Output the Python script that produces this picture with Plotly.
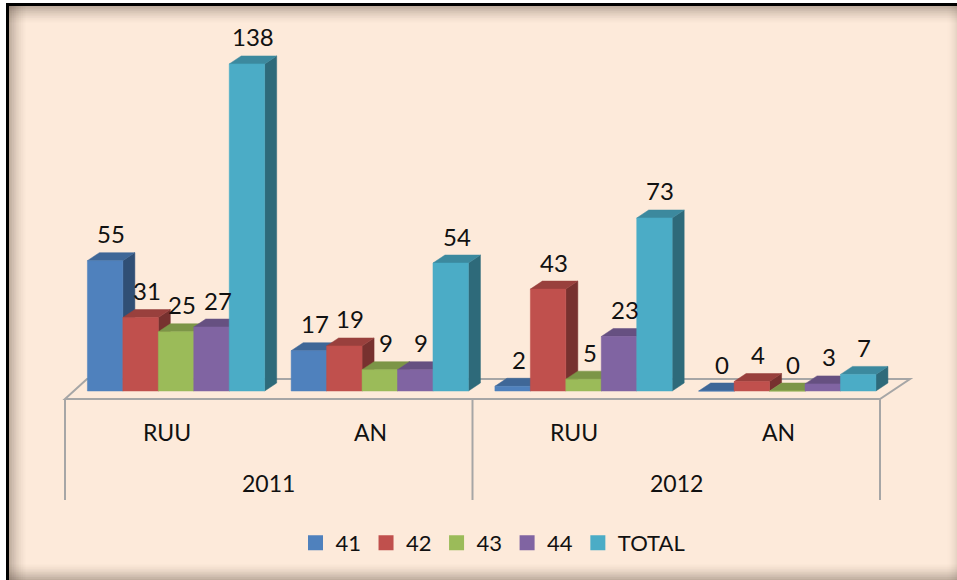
import plotly.graph_objects as go

# ---------------- data ----------------
years = ["2011", "2011", "2012", "2012"]
types = ["RUU", "AN", "RUU", "AN"]
year_labels = ["2011", "2012"]
series_names = ["41", "42", "43", "44", "TOTAL"]
s41 = [55, 17, 2, 0]
s42 = [31, 19, 43, 4]
s43 = [25, 9, 5, 0]
s44 = [27, 9, 23, 3]
s_total = [138, 54, 73, 7]
series_values = [s41, s42, s43, s44, s_total]

# ---------------- style ----------------
front_colors = ["#4F81BD", "#C0504D", "#9BBB59", "#8064A2", "#4BACC6"]
BG = "#FDEADA"
FONT = "Lato"


def shade(hexcol, f):
    h = hexcol.lstrip("#")
    r, g, b = (int(h[i:i + 2], 16) for i in (0, 2, 4))
    return "rgb(%d,%d,%d)" % (int(r * f), int(g * f), int(b * f))


W, H = 957, 580
ML, MR, MT, MB = 40, 17, 20, 60
PW = W - ML - MR
PH = H - MT - MB
PX_PER_X = 203.75          # pixels per category
PX_PER_Y = 2.37            # pixels per unit value
BASE_PX = 391              # pixel row of value 0
FRONT_LEFT_PX = 65         # pixel of category edge -0.5 on the front plane

xmin = -0.5 - (FRONT_LEFT_PX - ML) / PX_PER_X
XR = [xmin, xmin + PW / PX_PER_X]
YR = [-(MT + PH - BASE_PX) / PX_PER_Y, (BASE_PX - MT) / PX_PER_Y]


def ypx(py):
    """figure pixel row -> data value"""
    return (BASE_PX - py) / PX_PER_Y


GROUP_START = -0.39
BAR_W = 0.174
DX = 12 / PX_PER_X
DY = 8 / PX_PER_Y

fig = go.Figure()

# legend-only traces
for name, col in zip(series_names, front_colors):
    fig.add_trace(go.Scatter(x=[None], y=[None], name=name, mode="markers",
                             marker=dict(symbol="square", size=15, color=col),
                             showlegend=True, hoverinfo="skip"))

annotations = []
for k, (name, vals, col) in enumerate(zip(series_names, series_values, front_colors)):
    fx, fy, tx, ty, sx, sy = [], [], [], [], [], []
    for i, v in enumerate(vals):
        x0 = i + GROUP_START + k * BAR_W
        x1 = x0 + BAR_W
        fx += [x0, x1, x1, x0, x0, None]
        fy += [0, 0, v, v, 0, None]
        tx += [x0, x1, x1 + DX, x0 + DX, x0, None]
        ty += [v, v, v + DY, v + DY, v, None]
        sx += [x1, x1 + DX, x1 + DX, x1, x1, None]
        sy += [0, DY, v + DY, v, 0, None]
        annotations.append(dict(x=(x0 + x1) / 2 + DX / 2, y=v, yshift=27,
                                text=str(v), showarrow=False, xref="x", yref="y",
                                yanchor="middle", font=dict(family=FONT, size=24, color="#111")))
    for xs, ys, c in ((sx, sy, shade(col, 0.62)), (tx, ty, shade(col, 0.8)), (fx, fy, col)):
        fig.add_trace(go.Scatter(x=xs, y=ys, mode="lines", fill="toself", fillcolor=c,
                                 line=dict(color=c, width=0.5), showlegend=False,
                                 hoverinfo="skip"))

# category labels
for i, t in enumerate(types):
    annotations.append(dict(x=i, y=ypx(432), text=t, showarrow=False, yanchor="middle",
                            font=dict(family=FONT, size=23, color="#111")))
for j, yl in enumerate(year_labels):
    annotations.append(dict(x=0.5 + 2 * j, y=ypx(483), text=yl, showarrow=False,
                            yanchor="middle", font=dict(family=FONT, size=23, color="#111")))

shapes = []
GREY = "#A6A6A6"
# floor
yf, yb = ypx(399), ypx(379)
xl_b = -0.5 + 22 / PX_PER_X
xr_b = 3.5 + 30 / PX_PER_X
shapes.append(dict(type="path", xref="x", yref="y", layer="below",
                   path=f"M -0.5 {yf} L 3.5 {yf} L {xr_b} {yb} L {xl_b} {yb} Z",
                   line=dict(color=GREY, width=2), fillcolor=BG))
# table dividers
for xv in (-0.5, 1.5, 3.5):
    shapes.append(dict(type="line", xref="x", yref="y", x0=xv, x1=xv, y0=yf, y1=ypx(500),
                       line=dict(color=GREY, width=2), layer="below"))


# frame and shadow (figure pixels -> paper)
def px_rect(x0, y0, x1, y1, color):
    return dict(type="rect", xref="paper", yref="paper", layer="above",
                x0=(x0 - ML) / PW, x1=(x1 - ML) / PW,
                y0=(MT + PH - y0) / PH, y1=(MT + PH - y1) / PH,
                fillcolor=color, line=dict(width=0))


N = 10
for s in range(N):
    a = 0.34 * (1 - s / N) ** 1.5
    c = f"rgba(70,55,45,{a:.3f})"
    shapes.append(px_rect(9, 6 + 1.7 * s, W, 6 + 1.7 * (s + 1), c))          # top
    shapes.append(px_rect(9 + 1.7 * s, 6, 9 + 1.7 * (s + 1), H, c))          # left
    shapes.append(px_rect(9, H - 1.6 * (s + 1), W, H - 1.6 * s, c))          # bottom
    b = 0.12 * (1 - s / N) ** 1.6
    shapes.append(px_rect(W - 1.0 * (s + 1), 6, W - 1.0 * s, H, f"rgba(70,55,45,{b:.3f})"))
shapes.append(px_rect(0, 0, W, 3, "white"))
shapes.append(px_rect(0, 0, 6, H, "white"))
shapes.append(px_rect(6, 3, W, 6, "black"))
shapes.append(px_rect(6, 3, 9, H, "black"))

fig.update_layout(
    width=W, height=H,
    margin=dict(l=ML, r=MR, t=MT, b=MB),
    paper_bgcolor=BG, plot_bgcolor="rgba(0,0,0,0)",
    xaxis=dict(range=XR, visible=False, fixedrange=True),
    yaxis=dict(range=YR, visible=False, fixedrange=True),
    showlegend=True,
    legend=dict(orientation="h", x=(493 - ML) / PW, xanchor="center",
                y=(MT + PH - 543) / PH, yanchor="middle", bgcolor="rgba(0,0,0,0)",
                font=dict(family=FONT, size=22, color="#111"), itemclick=False,
                tracegroupgap=0),
    annotations=annotations,
    shapes=shapes,
)

fig.write_html("out.html", config={"displayModeBar": False},
               post_script="document.body.style.margin='0';document.body.style.overflow='hidden';")
